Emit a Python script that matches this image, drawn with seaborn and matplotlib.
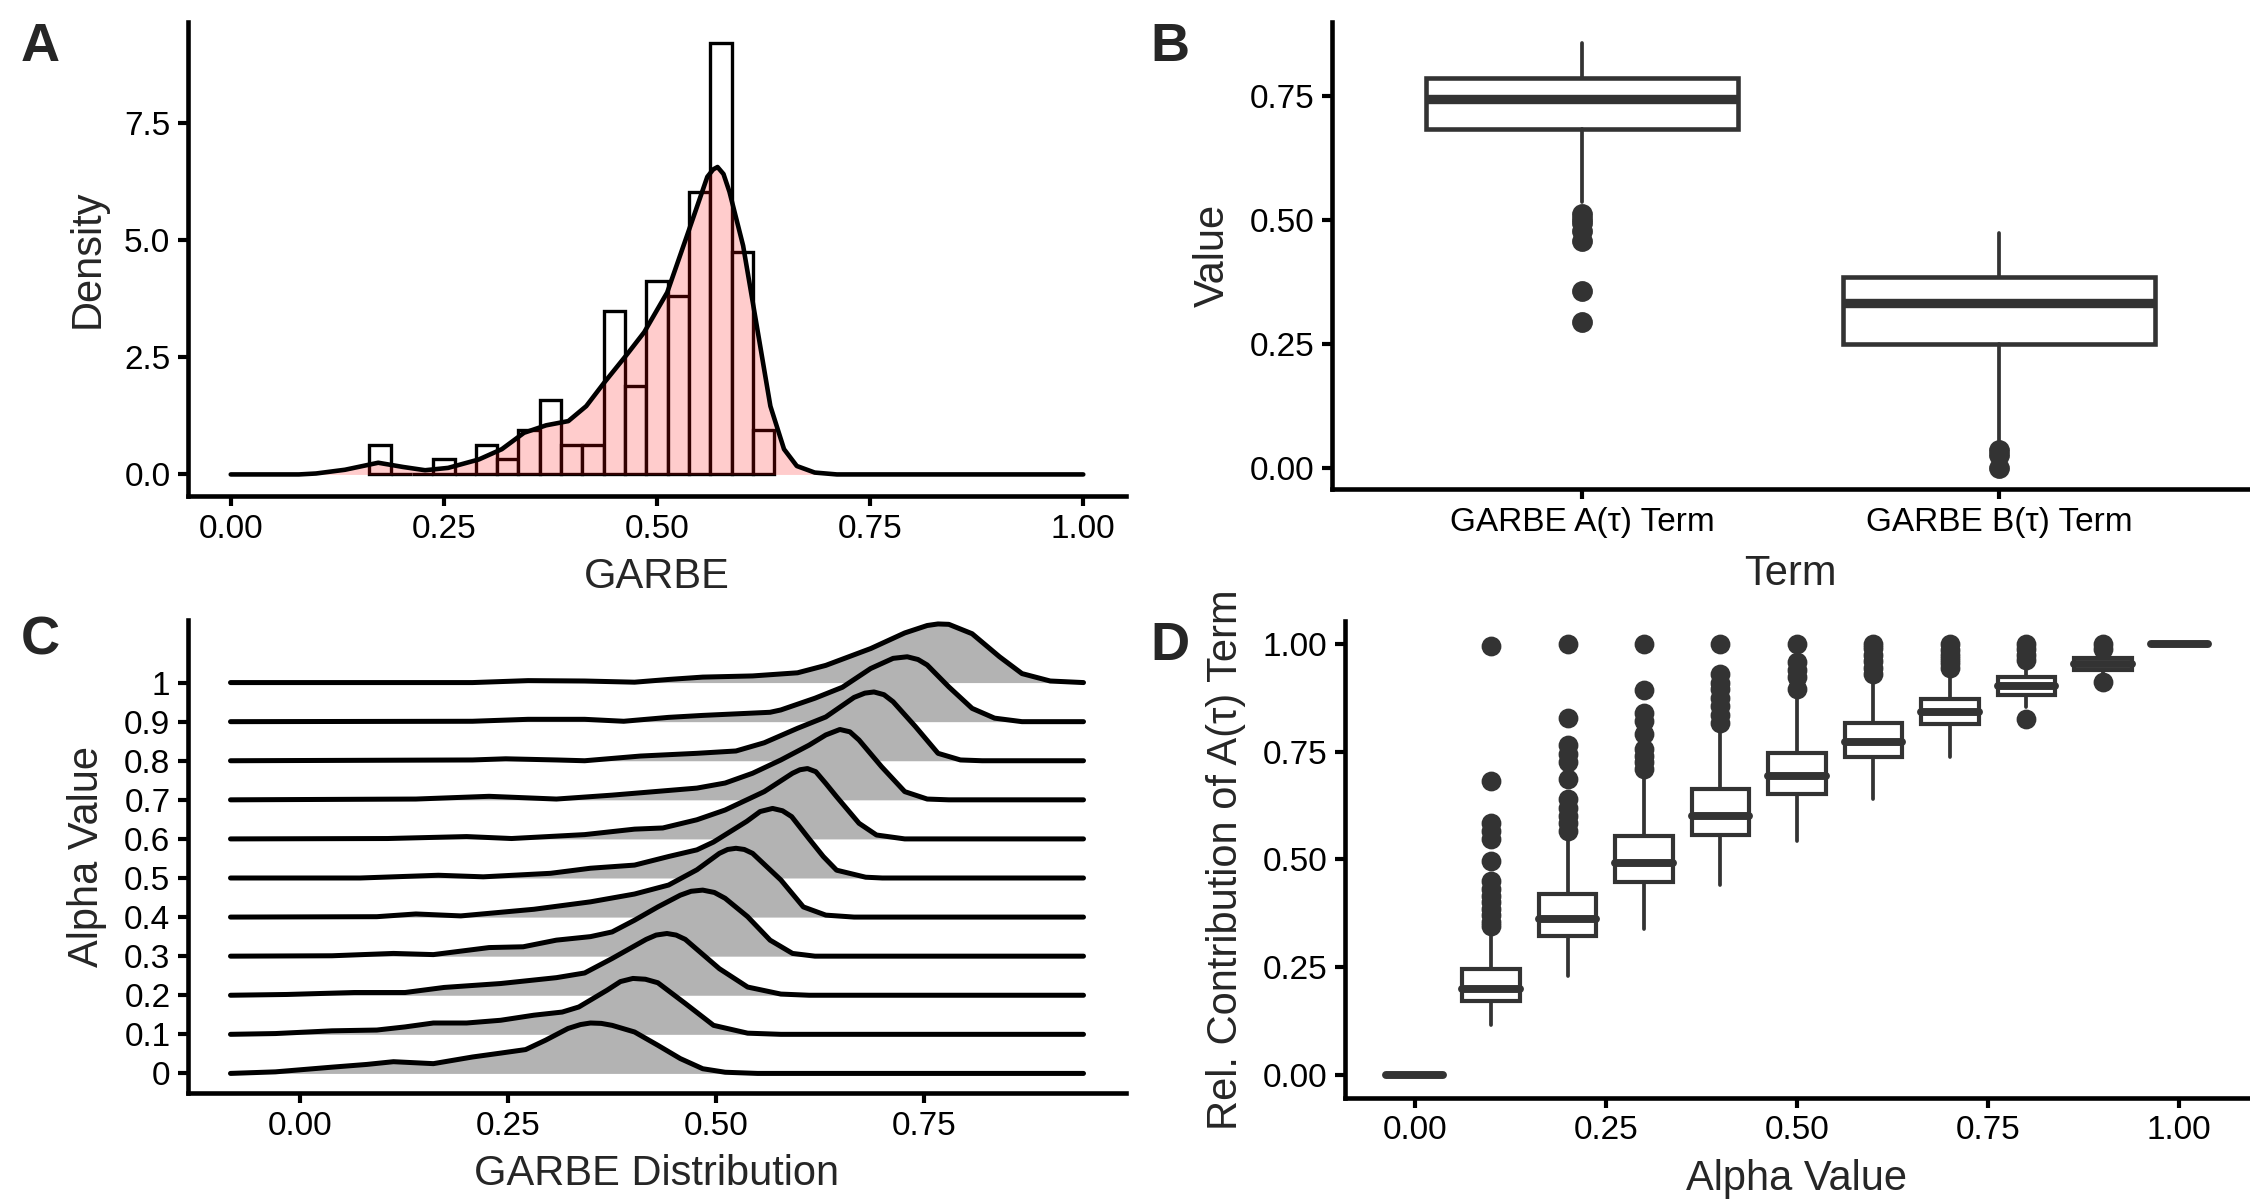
import numpy as np
import seaborn as sns
import matplotlib.pyplot as plt

# ---- Panel A: histogram (density scale) + density curve of GARBE
hist_centers = [0.175, 0.200, 0.225, 0.250, 0.275, 0.300, 0.325, 0.350, 0.375, 0.400,
                0.425, 0.450, 0.475, 0.500, 0.525, 0.550, 0.575, 0.600, 0.625]
hist_heights = [0.63, 0.0, 0.0, 0.32, 0.0, 0.63, 0.32, 0.95, 1.59, 0.63,
                0.63, 3.49, 1.90, 4.13, 3.81, 6.03, 9.21, 4.76, 0.95]
dens_x = [0.00, 0.08, 0.10, 0.134, 0.173, 0.202, 0.228, 0.255, 0.291, 0.318, 0.344, 0.370,
          0.396, 0.417, 0.438, 0.465, 0.485, 0.512, 0.538, 0.559, 0.566, 0.571, 0.578, 0.585,
          0.601, 0.617, 0.633, 0.649, 0.664, 0.685, 0.711, 1.00]
dens_y = [0.0, 0.0, 0.02, 0.10, 0.25, 0.16, 0.09, 0.14, 0.32, 0.54, 0.89, 1.05,
          1.14, 1.46, 1.96, 2.57, 3.04, 3.89, 5.25, 6.36, 6.52, 6.57, 6.42, 6.04,
          4.89, 3.18, 1.46, 0.54, 0.18, 0.04, 0.0, 0.0]

# ---- Panel B: boxplots of the two terms
terms = ["GARBE A(τ) Term", "GARBE B(τ) Term"]
b_whislo = [0.537, 0.050]
b_q1 = [0.683, 0.249]
b_med = [0.745, 0.333]
b_q3 = [0.787, 0.385]
b_whishi = [0.857, 0.473]
b_fliers = [[0.513, 0.503, 0.494, 0.478, 0.457, 0.356, 0.294],
            [0.035, 0.025, 0.0]]

# ---- Panel C: ridgelines (height in units of row spacing)
alpha_labels = ["0", "0.1", "0.2", "0.3", "0.4", "0.5", "0.6", "0.7", "0.8", "0.9", "1"]
ridge_x_00 = [-0.084, -0.03, 0.038, 0.08, 0.112, 0.16, 0.207, 0.241, 0.271, 0.295, 0.322, 0.337,
              0.349, 0.362, 0.375, 0.402, 0.430, 0.457, 0.484, 0.511, 0.55, 0.942]
ridge_h_00 = [0.0, 0.04, 0.16, 0.23, 0.30, 0.25, 0.42, 0.52, 0.61, 0.85, 1.15, 1.25,
              1.29, 1.28, 1.23, 1.06, 0.72, 0.38, 0.12, 0.03, 0.0, 0.0]
ridge_x_01 = [-0.084, -0.03, 0.038, 0.092, 0.126, 0.16, 0.20, 0.241, 0.281, 0.315, 0.335, 0.369,
              0.385, 0.40, 0.415, 0.43, 0.463, 0.497, 0.538, 0.578, 0.942]
ridge_h_01 = [0.0, 0.02, 0.09, 0.11, 0.19, 0.29, 0.29, 0.36, 0.49, 0.57, 0.70, 1.13,
              1.35, 1.43, 1.41, 1.32, 0.79, 0.23, 0.03, 0.0, 0.0]
ridge_x_02 = [-0.084, -0.016, 0.065, 0.126, 0.173, 0.241, 0.308, 0.342, 0.375, 0.416, 0.428,
              0.441, 0.452, 0.463, 0.504, 0.538, 0.578, 0.612, 0.942]
ridge_h_02 = [0.0, 0.02, 0.07, 0.07, 0.20, 0.30, 0.45, 0.57, 0.94, 1.43, 1.54,
              1.58, 1.54, 1.43, 0.68, 0.21, 0.03, 0.0, 0.0]
ridge_x_03 = [-0.084, 0.038, 0.112, 0.16, 0.227, 0.268, 0.308, 0.349, 0.375, 0.402, 0.43,
              0.457, 0.47, 0.484, 0.498, 0.511, 0.538, 0.565, 0.592, 0.619, 0.942]
ridge_h_03 = [0.0, 0.01, 0.07, 0.04, 0.22, 0.24, 0.41, 0.50, 0.62, 0.92, 1.26,
              1.56, 1.66, 1.69, 1.63, 1.48, 1.01, 0.41, 0.07, 0.0, 0.0]
ridge_x_04 = [-0.084, 0.092, 0.139, 0.193, 0.281, 0.349, 0.402, 0.443, 0.477, 0.504, 0.514,
              0.524, 0.534, 0.544, 0.578, 0.605, 0.632, 0.666, 0.942]
ridge_h_04 = [0.0, 0.01, 0.08, 0.03, 0.20, 0.39, 0.59, 0.82, 1.21, 1.63, 1.73,
              1.76, 1.73, 1.63, 0.95, 0.26, 0.05, 0.0, 0.0]
ridge_x_05 = [-0.084, 0.072, 0.166, 0.22, 0.301, 0.349, 0.402, 0.443, 0.477, 0.497, 0.537,
              0.553, 0.568, 0.58, 0.591, 0.612, 0.629, 0.645, 0.68, 0.70, 0.942]
ridge_h_05 = [0.0, 0.0, 0.07, 0.03, 0.12, 0.25, 0.33, 0.55, 0.72, 0.92, 1.45,
              1.70, 1.78, 1.72, 1.57, 1.00, 0.55, 0.20, 0.02, 0.0, 0.0]
ridge_x_06 = [-0.084, 0.105, 0.20, 0.254, 0.342, 0.402, 0.436, 0.477, 0.511, 0.558, 0.592,
              0.601, 0.61, 0.62, 0.632, 0.645, 0.672, 0.693, 0.727, 0.942]
ridge_h_06 = [0.0, 0.01, 0.06, 0.01, 0.11, 0.25, 0.28, 0.49, 0.74, 1.21, 1.68,
              1.77, 1.80, 1.72, 1.42, 1.08, 0.40, 0.10, 0.0, 0.0]
ridge_x_07 = [-0.084, 0.139, 0.227, 0.308, 0.375, 0.477, 0.511, 0.544, 0.578, 0.612, 0.632,
              0.649, 0.661, 0.672, 0.699, 0.727, 0.754, 0.78, 0.942]
ridge_h_07 = [0.0, 0.02, 0.09, 0.02, 0.12, 0.30, 0.43, 0.68, 1.02, 1.40, 1.66,
              1.80, 1.74, 1.53, 0.85, 0.21, 0.02, 0.0, 0.0]
ridge_x_08 = [-0.084, 0.207, 0.247, 0.308, 0.342, 0.409, 0.477, 0.524, 0.558, 0.598, 0.632,
              0.666, 0.679, 0.69, 0.702, 0.713, 0.74, 0.767, 0.794, 0.82, 0.942]
ridge_h_08 = [0.0, 0.02, 0.05, 0.02, 0.0, 0.12, 0.19, 0.25, 0.46, 0.83, 1.12,
              1.62, 1.73, 1.76, 1.69, 1.51, 0.87, 0.19, 0.02, 0.0, 0.0]
ridge_x_09 = [-0.084, 0.207, 0.274, 0.342, 0.389, 0.443, 0.484, 0.565, 0.578, 0.619, 0.652,
              0.686, 0.713, 0.73, 0.743, 0.754, 0.78, 0.808, 0.835, 0.868, 0.942]
ridge_h_09 = [0.0, 0.01, 0.06, 0.06, 0.01, 0.11, 0.16, 0.24, 0.30, 0.60, 0.88,
              1.36, 1.62, 1.66, 1.59, 1.45, 0.89, 0.34, 0.09, 0.0, 0.0]
ridge_x_10 = [-0.084, 0.207, 0.274, 0.342, 0.402, 0.443, 0.484, 0.544, 0.598, 0.632, 0.686,
              0.727, 0.754, 0.767, 0.78, 0.808, 0.841, 0.868, 0.902, 0.942]
ridge_h_10 = [0.0, 0.0, 0.05, 0.04, 0.01, 0.08, 0.14, 0.17, 0.25, 0.44, 0.87,
              1.27, 1.46, 1.50, 1.49, 1.25, 0.66, 0.23, 0.04, 0.0]

# ---- Panel D: boxplots of relative contribution per alpha
alpha_values = [0.0, 0.1, 0.2, 0.3, 0.4, 0.5, 0.6, 0.7, 0.8, 0.9, 1.0]
d_whislo = [0.0, 0.115, 0.228, 0.338, 0.441, 0.543, 0.641, 0.737, 0.853, 0.930, 1.0]
d_q1 = [0.0, 0.172, 0.321, 0.447, 0.556, 0.652, 0.737, 0.814, 0.882, 0.940, 1.0]
d_med = [0.0, 0.200, 0.361, 0.491, 0.600, 0.693, 0.773, 0.841, 0.903, 0.953, 1.0]
d_q3 = [0.0, 0.245, 0.420, 0.555, 0.662, 0.746, 0.816, 0.873, 0.922, 0.967, 1.0]
d_whishi = [0.0, 0.337, 0.554, 0.693, 0.800, 0.872, 0.911, 0.934, 0.957, 0.975, 1.0]
d_fliers = [
    [],
    [0.996, 0.681, 0.585, 0.565, 0.548, 0.495, 0.45, 0.43, 0.415, 0.40, 0.385, 0.37, 0.355, 0.345],
    [1.0, 0.829, 0.765, 0.745, 0.725, 0.686, 0.64, 0.62, 0.60, 0.585, 0.565],
    [1.0, 0.893, 0.84, 0.82, 0.79, 0.755, 0.74, 0.725, 0.71],
    [1.0, 0.93, 0.91, 0.895, 0.875, 0.856, 0.835, 0.817],
    [1.0, 0.957, 0.94, 0.922, 0.895],
    [1.0, 0.99, 0.975, 0.96, 0.945, 0.93],
    [1.0, 0.985, 0.975, 0.965, 0.955, 0.945],
    [1.0, 0.987, 0.975, 0.963, 0.825],
    [1.0, 0.988, 0.912],
    [],
]

sns.set_style("ticks")
plt.rcParams["font.family"] = ["Liberation Sans", "DejaVu Sans"]
plt.rcParams["axes.linewidth"] = 2.2
plt.rcParams["xtick.major.width"] = 2.0
plt.rcParams["ytick.major.width"] = 2.0
plt.rcParams["xtick.major.size"] = 5
plt.rcParams["ytick.major.size"] = 5
plt.rcParams["xtick.labelsize"] = 16
plt.rcParams["ytick.labelsize"] = 16
plt.rcParams["axes.labelsize"] = 20
plt.rcParams["xtick.color"] = "black"
plt.rcParams["ytick.color"] = "black"
plt.rcParams["axes.edgecolor"] = "black"

fig = plt.figure(figsize=(15, 8), dpi=150)
ax_a = fig.add_axes([0.0836, 0.5867, 0.4168, 0.3950])
ax_b = fig.add_axes([0.5920, 0.5925, 0.4075, 0.3892])
ax_c = fig.add_axes([0.0836, 0.0892, 0.4168, 0.3941])
ax_d = fig.add_axes([0.5978, 0.0854, 0.4017, 0.3971])

box_col = "#333333"

# A
edges = [c - 0.0125 for c in hist_centers] + [hist_centers[-1] + 0.0125]
sns.histplot(x=hist_centers, weights=hist_heights, bins=edges, ax=ax_a,
             color="white", edgecolor="black", linewidth=1.6, alpha=1, zorder=1)
ax_a.fill_between(dens_x, dens_y, color="red", alpha=0.2, linewidth=0, zorder=2)
sns.lineplot(x=dens_x, y=dens_y, ax=ax_a, color="black", linewidth=2.2, sort=False, zorder=3)
ax_a.set_xlim(-0.05, 1.05)
ax_a.set_ylim(-0.46, 9.67)
ax_a.set_xticks([0, 0.25, 0.5, 0.75, 1.0])
ax_a.set_xticklabels(["0.00", "0.25", "0.50", "0.75", "1.00"])
ax_a.set_yticks([0, 2.5, 5.0, 7.5])
ax_a.set_yticklabels(["0.0", "2.5", "5.0", "7.5"])
ax_a.set_xlabel("GARBE", labelpad=6)
ax_a.set_ylabel("Density", labelpad=8)

# B
stats_b = [dict(whislo=b_whislo[i], q1=b_q1[i], med=b_med[i], q3=b_q3[i],
                whishi=b_whishi[i], fliers=b_fliers[i]) for i in range(len(terms))]
ax_b.bxp(stats_b, positions=[1, 2], widths=0.75, patch_artist=True, showcaps=False,
         boxprops=dict(facecolor="white", edgecolor=box_col, linewidth=2.2),
         medianprops=dict(color=box_col, linewidth=4.5),
         whiskerprops=dict(color=box_col, linewidth=1.8),
         flierprops=dict(marker="o", markerfacecolor=box_col, markeredgecolor=box_col,
                         markersize=9))
ax_b.set_xlim(0.4, 2.6)
ax_b.set_ylim(-0.043, 0.9)
ax_b.set_xticks([1, 2])
ax_b.set_xticklabels(terms)
ax_b.set_yticks([0, 0.25, 0.5, 0.75])
ax_b.set_yticklabels(["0.00", "0.25", "0.50", "0.75"])
ax_b.set_xlabel("Term", labelpad=8)
ax_b.set_ylabel("Value", labelpad=8)

# C
ridges_x = [ridge_x_00, ridge_x_01, ridge_x_02, ridge_x_03, ridge_x_04, ridge_x_05,
            ridge_x_06, ridge_x_07, ridge_x_08, ridge_x_09, ridge_x_10]
ridges_h = [ridge_h_00, ridge_h_01, ridge_h_02, ridge_h_03, ridge_h_04, ridge_h_05,
            ridge_h_06, ridge_h_07, ridge_h_08, ridge_h_09, ridge_h_10]
n_r = len(alpha_labels)
for i in range(n_r - 1, -1, -1):
    xs = np.array(ridges_x[i])
    top = i + np.array(ridges_h[i])
    z = 2 * (n_r - i)
    ax_c.fill_between(xs, i, top, color="#B3B3B3", linewidth=0, zorder=z)
    ax_c.plot(xs, top, color="black", linewidth=2.4, solid_capstyle="round",
              solid_joinstyle="round", zorder=z + 1)
ax_c.set_xlim(-0.135, 0.993)
ax_c.set_ylim(-0.5, 11.6)
ax_c.set_xticks([0, 0.25, 0.5, 0.75])
ax_c.set_xticklabels(["0.00", "0.25", "0.50", "0.75"])
ax_c.set_yticks(range(n_r))
ax_c.set_yticklabels(alpha_labels)
ax_c.set_xlabel("GARBE Distribution", labelpad=6)
ax_c.set_ylabel("Alpha Value", labelpad=8)

# D
stats_d = [dict(whislo=d_whislo[i], q1=d_q1[i], med=d_med[i], q3=d_q3[i],
                whishi=d_whishi[i], fliers=d_fliers[i]) for i in range(len(alpha_values))]
ax_d.bxp(stats_d, positions=alpha_values, widths=0.075, patch_artist=True, showcaps=False,
         boxprops=dict(facecolor="white", edgecolor=box_col, linewidth=2.0),
         medianprops=dict(color=box_col, linewidth=3.8, solid_capstyle="round"),
         whiskerprops=dict(color=box_col, linewidth=1.8),
         flierprops=dict(marker="o", markerfacecolor=box_col, markeredgecolor=box_col,
                         markersize=8.5), manage_ticks=False)
ax_d.set_xlim(-0.091, 1.091)
ax_d.set_ylim(-0.053, 1.053)
ax_d.set_xticks([0, 0.25, 0.5, 0.75, 1.0])
ax_d.set_xticklabels(["0.00", "0.25", "0.50", "0.75", "1.00"])
ax_d.set_yticks([0, 0.25, 0.5, 0.75, 1.0])
ax_d.set_yticklabels(["0.00", "0.25", "0.50", "0.75", "1.00"])
ax_d.set_xlabel("Alpha Value", labelpad=6)
ax_d.set_ylabel("Rel. Contribution of A(τ) Term", labelpad=8)

for ax in [ax_a, ax_b, ax_c, ax_d]:
    sns.despine(ax=ax)
    ax.grid(False)
    ax.set_facecolor("white")

for lab, x, y in [("A", 0.018, 0.961), ("B", 0.520, 0.961), ("C", 0.018, 0.466), ("D", 0.520, 0.462)]:
    fig.text(x, y, lab, fontsize=26, fontweight="bold", va="center", ha="center")

fig.savefig("out.png", dpi=150, facecolor="white")
